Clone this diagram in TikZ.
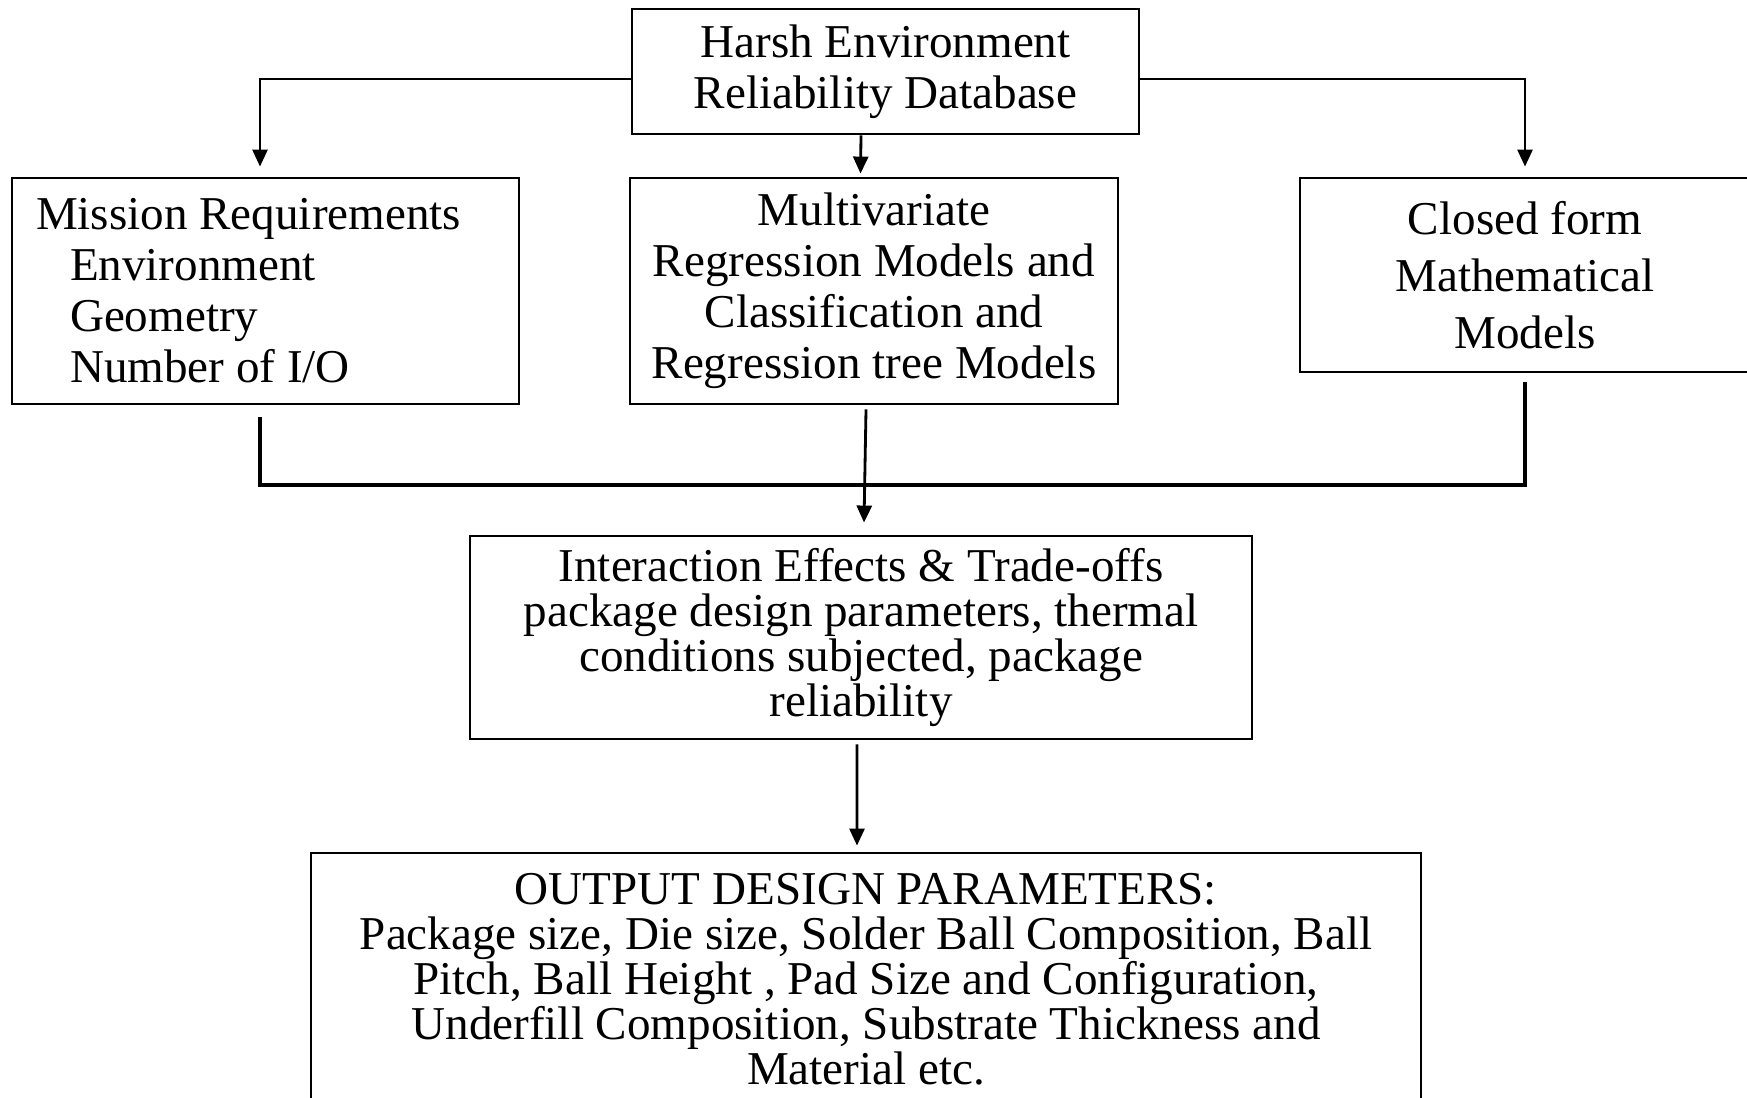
\documentclass[tikz,border=0pt]{standalone}
\usepackage{fontspec}
\setmainfont{Liberation Serif}
\usetikzlibrary{arrows.meta}

\begin{document}
\begin{tikzpicture}[
	box/.style={draw, line width=0.8pt, inner sep=0pt, align=center, font=\fontsize{13.4}{14.5}\selectfont},
	tight/.style={font=\fontsize{13.4}{12.8}\selectfont},
	link/.style={line width=0.8pt, -{Triangle[length=0.17cm,width=0.15cm]}},
	bus/.style={line width=1pt}
	]
	\useasboundingbox (0,0) rectangle (17.47,10.98);

	% boxes
	\node[box, minimum width=5.07cm, minimum height=1.25cm] (db) at (8.855,10.265) {Harsh Environment\\Reliability Database};
	\node[box, align=flush left, inner xsep=0.24cm, text width=4.59cm, minimum height=2.26cm] (mission) at (2.655,8.07)
		{Mission Requirements\\\hspace*{0.34cm}Environment\\\hspace*{0.34cm}Geometry\\\hspace*{0.34cm}Number of I/O};
	\node[box, minimum width=4.88cm, minimum height=2.26cm] (regr) at (8.74,8.07)
		{Multivariate\\Regression Models and\\Classification and\\Regression tree Models};
	\node[box, font=\fontsize{13.4}{16.2}\selectfont, minimum width=4.5cm, minimum height=1.94cm] (closed) at (15.25,8.23)
		{Closed form\\Mathematical\\Models};
	\node[box, tight, minimum width=7.82cm, minimum height=2.03cm] (inter) at (8.61,4.605)
		{Interaction Effects \& Trade-offs\\package design parameters, thermal\\conditions subjected, package\\reliability};
	\node[box, tight, minimum width=11.1cm, minimum height=2.52cm] (output) at (8.66,1.19)
		{OUTPUT DESIGN PARAMETERS:\\Package size, Die size, Solder Ball Composition, Ball\\Pitch, Ball Height , Pad Size and Configuration,\\Underfill Composition, Substrate Thickness and\\Material etc.};

	% connectors
	\coordinate (hub) at (8.66,6.13);
	\draw[link] ([yshift=-0.075cm]db.west) -| ([xshift=-0.055cm,yshift=0.1cm]mission.north);
	\draw[link] ([yshift=-0.075cm]db.east) -| ([yshift=0.1cm]closed.north);
	\draw[link] ([xshift=-0.245cm]db.south) -- ([xshift=-0.135cm,yshift=0.03cm]regr.north);
	\draw[bus] ([xshift=-0.055cm,yshift=-0.12cm]mission.south) |- (hub) -| ([yshift=-0.09cm]closed.south);
	\draw[link] ([xshift=-0.08cm,yshift=-0.04cm]regr.south) -- ([xshift=0.03cm,yshift=0.12cm]inter.north);
	\draw[link] ([xshift=-0.04cm,yshift=-0.04cm]inter.south) -- ([xshift=-0.09cm,yshift=0.06cm]output.north);
\end{tikzpicture}
\end{document}
